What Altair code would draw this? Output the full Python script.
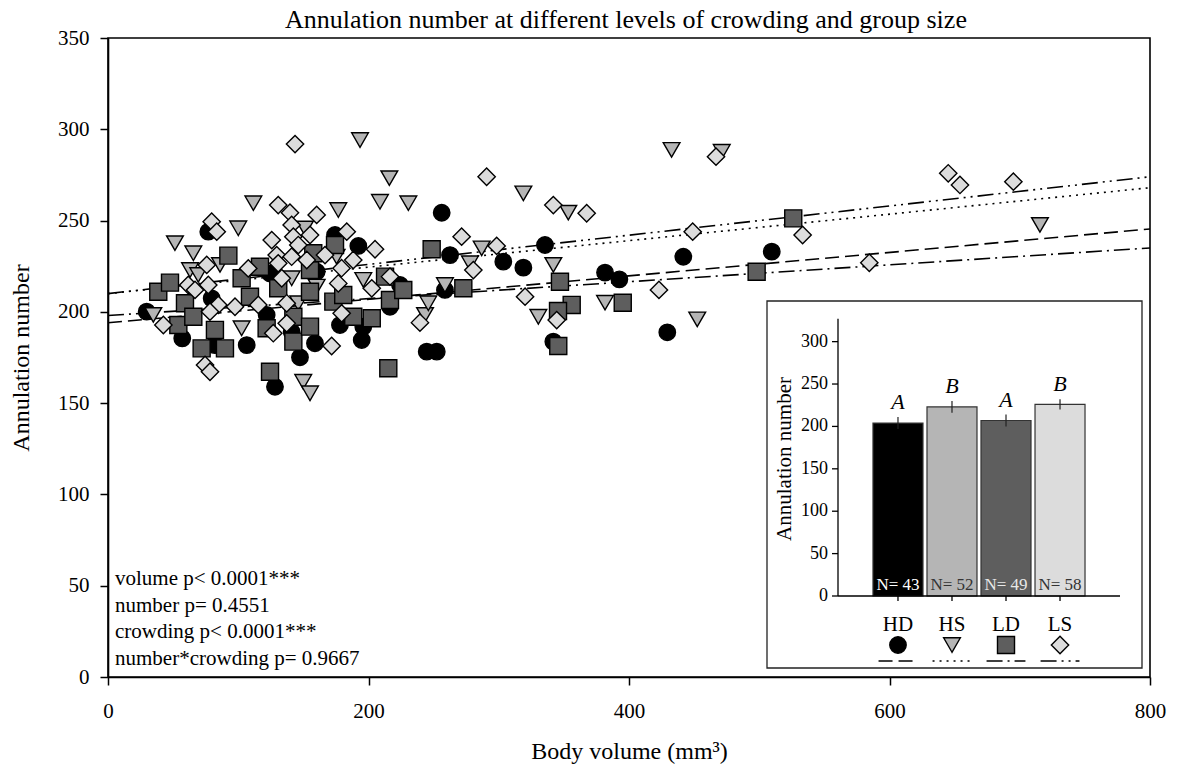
import altair as alt
import pandas as pd

# ---------------- data ----------------
groups = ["HD", "HS", "LD", "LS"]

HD_x = [29.7, 57.0, 79.6, 77.0, 82.1, 106.5, 121.8, 128.2, 141.0, 147.4, 158.9, 160.2, 174.3, 178.1,
        192.2, 194.8, 196.0, 216.5, 224.2, 244.7, 252.4, 256.2, 258.7, 262.6, 303.5, 318.9, 335.5,
        341.9, 381.6, 392.6, 441.7, 429.4, 509.6, 124.4]
HD_y = [200.1, 185.5, 207.4, 243.9, 181.8, 181.8, 198.3, 159.0, 189.1, 175.1, 182.8, 222.0, 242.1, 192.8,
        236.1, 184.6, 191.9, 202.8, 214.7, 178.2, 178.2, 254.3, 212.0, 231.1, 227.5, 224.2, 236.6,
        183.7, 221.5, 217.8, 230.2, 188.8, 233.0, 221.0]

HS_x = [34.8, 51.4, 65.5, 63.0, 69.3, 86.0, 100.0, 102.6, 111.6, 141.0, 146.1, 149.9, 155.1, 160.2,
        176.8, 193.5, 196.0, 208.8, 216.0, 230.6, 243.4, 245.9, 258.7, 277.9, 286.9, 318.9, 330.4,
        341.9, 353.4, 381.6, 432.7, 471.2, 452.4, 715.5, 151.2, 175.5]
HS_y = [198.3, 237.6, 232.1, 222.9, 220.2, 225.7, 245.8, 191.0, 259.5, 218.4, 204.7, 161.7, 155.4, 213.8,
        255.8, 294.1, 217.5, 260.3, 273.2, 259.5, 198.3, 204.7, 214.7, 226.6, 234.8, 264.9, 197.3,
        225.7, 254.3, 205.0, 288.7, 287.7, 195.9, 247.6, 245.7, 230.2]

LD_x = [38.6, 47.6, 59.1, 54.0, 65.5, 71.9, 82.1, 89.8, 92.4, 102.6, 109.0, 116.7, 121.8, 124.4, 130.7,
        142.3, 142.3, 155.1, 155.1, 155.1, 157.6, 173.0, 174.3, 180.6, 188.3, 202.5, 212.7, 215.2,
        216.5, 226.7, 248.5, 272.8, 347.0, 356.0, 345.7, 395.2, 498.0, 526.1, 345.5]
LD_y = [211.0, 216.0, 204.7, 192.8, 197.3, 180.0, 190.1, 180.0, 230.8, 218.4, 208.3, 224.7, 191.0, 167.2,
        212.9, 197.3, 183.7, 222.9, 211.0, 191.9, 232.1, 205.6, 236.6, 209.2, 197.3, 196.5, 219.3,
        169.1, 206.5, 212.0, 234.3, 212.9, 216.5, 203.8, 181.3, 205.0, 222.0, 251.2, 200.5]

LS_x = [42.5, 74.5, 78.3, 79.6, 83.5, 75.8, 61.6, 66.8, 77.0, 84.7, 97.5, 78.3, 107.7, 143.6, 130.7,
        139.7, 160.2, 141.0, 155.1, 183.3, 125.7, 142.3, 146.1, 205.0, 129.5, 141.0, 152.6, 166.6,
        188.3, 130.7, 179.3, 133.4, 176.8, 202.5, 216.5, 115.4, 137.2, 179.4, 137.2, 126.9, 171.7,
        290.7, 341.9, 367.5, 271.5, 298.4, 280.5, 320.2, 239.5, 344.5, 423.0, 448.9, 466.8, 533.3,
        584.5, 645.1, 654.1, 695.1]
LS_y = [192.8, 170.9, 167.2, 249.4, 243.9, 225.7, 214.7, 212.0, 214.7, 203.8, 202.8, 200.1, 223.8,
        291.9, 258.5, 254.3, 253.1, 247.6, 242.1, 243.9, 239.3, 241.2, 236.6, 234.3, 231.1, 230.2,
        228.4, 231.1, 228.4, 226.6, 223.9, 218.4, 215.6, 212.9, 219.3, 203.8, 204.7, 199.2, 193.7,
        188.3, 181.3, 274.0, 258.5, 254.0, 241.2, 236.1, 222.9, 208.3, 194.1, 195.5, 212.0, 243.9,
        285.0, 242.1, 226.9, 275.9, 269.5, 271.3]

# regression lines: fitted value at volume 0 and at volume 800
line_x0, line_x1 = 0, 800
line_y_start = [194.0, 210.0, 198.0, 210.0]
line_y_end = [245.4, 268.0, 235.0, 274.0]

# inset bar chart
bar_mean = [204.0, 223.0, 207.0, 226.0]
bar_se = [7.0, 7.0, 7.0, 6.0]
bar_letters = ["A", "B", "A", "B"]
bar_n = ["N= 43", "N= 52", "N= 49", "N= 58"]
bar_ncolor = ["#ffffff", "#333333", "#e8e8e8", "#333333"]
inset_ticks = [0, 50, 100, 150, 200, 250, 300]

title_text = "Annulation number at different levels of crowding and group size"
stats_text = ("volume p< 0.0001***\nnumber p= 0.4551\ncrowding p< 0.0001***\n"
              "number*crowding p= 0.9667")

# ---------------- tables ----------------
rows = []
for g, xs, ys in zip(groups, [HD_x, HS_x, LD_x, LS_x], [HD_y, HS_y, LD_y, LS_y]):
    for a, b in zip(xs, ys):
        rows.append({"group": g, "vol": a, "ann": b})
pts = pd.DataFrame(rows)

lines = pd.DataFrame(
    [{"group": g, "vol": line_x0, "ann": s} for g, s in zip(groups, line_y_start)]
    + [{"group": g, "vol": line_x1, "ann": e} for g, e in zip(groups, line_y_end)]
)

bars = pd.DataFrame({
    "group": groups,
    "idx": list(range(4)),
    "mean": bar_mean,
    "se": bar_se,
    "letter": bar_letters,
    "nlab": bar_n,
    "ncol": bar_ncolor,
})
bars["lo"] = bars["mean"] - bars["se"]
bars["hi"] = bars["mean"] + bars["se"]
bars["zero"] = 0
bars["tk"] = -6
bars["xa"] = bars["idx"] - 0.36
bars["xb"] = bars["idx"] + 0.36

ticks_df = pd.DataFrame({"t": inset_ticks})
axis_df = pd.DataFrame({"zero": [0], "top": [327]})
one = pd.DataFrame({"a": [0]})

# ---------------- scales ----------------
FONT = "Liberation Serif"
shape_scale = alt.Scale(domain=groups, range=["circle", "triangle-down", "square", "diamond"])
fill_scale = alt.Scale(domain=groups, range=["#000000", "#b5b5b5", "#5e5e5e", "#dcdcdc"])
size_scale = alt.Scale(domain=groups, range=[270, 300, 220, 340])
dash_scale = alt.Scale(domain=groups, range=[[14, 6], [2, 5], [16, 5, 2, 5], [16, 5, 2, 5, 2, 5]])

xs_main = alt.Scale(domain=[0, 800], nice=False, zero=False)
ys_main = alt.Scale(domain=[0, 350], nice=False)

axis_style = dict(grid=False, labelFont=FONT, labelFontSize=21, labelColor="black",
                  titleFont=FONT, titleFontSize=24, titleFontWeight="normal",
                  titleColor="black", domainColor="black", domainWidth=1.6,
                  tickColor="black", tickWidth=1.5, tickSize=8, labelFlush=False)

X = alt.X("vol:Q", scale=xs_main,
          axis=alt.Axis(values=[0, 200, 400, 600, 800], title="Body volume (mm³)",
                        titlePadding=18, labelPadding=15, **axis_style))
Y = alt.Y("ann:Q", scale=ys_main,
          axis=alt.Axis(values=[0, 50, 100, 150, 200, 250, 300, 350], title="Annulation number",
                        titlePadding=24, labelPadding=11, **axis_style))

reg = alt.Chart(lines).mark_line(color="black", strokeWidth=1.6).encode(
    x=X, y=Y,
    strokeDash=alt.StrokeDash("group:N", scale=dash_scale, legend=None),
    detail="group:N",
)

points = alt.Chart(pts).mark_point(filled=True, stroke="black", strokeWidth=1.4, opacity=1,
                                   fillOpacity=1).encode(
    x=X, y=Y,
    shape=alt.Shape("group:N", scale=shape_scale, legend=None),
    fill=alt.Fill("group:N", scale=fill_scale, legend=None),
    size=alt.Size("group:N", scale=size_scale, legend=None),
)

stats = alt.Chart(one).mark_text(align="left", baseline="top", font=FONT, fontSize=21,
                                 lineBreak="\n", lineHeight=26.5, color="black").encode(
    x=alt.value(7), y=alt.value(530), text=alt.value(stats_text)
)

title = alt.Chart(one).mark_text(align="center", baseline="middle", font=FONT, fontSize=26,
                                 color="black").encode(
    x=alt.value(518), y=alt.value(-18), text=alt.value(title_text)
)

main = alt.layer(reg, points, stats, title)

# ---------------- inset ----------------
xs_in = alt.Scale(domain=[-1.018, 4.018], range=[730, 1012], nice=False, zero=False)
ys_in = alt.Scale(domain=[0, 330], range=[558, 278.2], nice=False)


def XI(f):
    return alt.X(f, type="quantitative", scale=xs_in, axis=None)


def YI(f):
    return alt.Y(f, type="quantitative", scale=ys_in, axis=None)


bg = alt.Chart(one).mark_rect(fill="white", stroke="#222222", strokeWidth=1.3).encode(
    x=alt.value(659), x2=alt.value(1034), y=alt.value(263), y2=alt.value(630)
)

ibars = alt.Chart(bars).mark_bar(width=50, stroke="#333333", strokeWidth=1.2).encode(
    x=XI("idx"), y=YI("mean"),
    fill=alt.Fill("group:N", scale=fill_scale, legend=None),
)

ierr = alt.Chart(bars).mark_rule(color="#222222", strokeWidth=1.2).encode(
    x=XI("idx"), y=YI("lo"), y2="hi"
)

iletter = alt.Chart(bars).mark_text(font=FONT, fontSize=22, fontStyle="italic", baseline="bottom",
                                    dy=-3, color="black").encode(
    x=XI("idx"), y=YI("hi"), text="letter:N"
)

inlab = alt.Chart(bars).mark_text(font=FONT, fontSize=17, baseline="bottom", dy=-2).encode(
    x=XI("idx"), y=YI("zero"), text="nlab:N", color=alt.Color("ncol:N", scale=None)
)

iyaxis = alt.Chart(axis_df).mark_rule(color="black", strokeWidth=1.3).encode(
    x=alt.value(730), y=YI("zero"), y2="top"
)

iyticks = alt.Chart(ticks_df).mark_rule(color="black", strokeWidth=1.3).encode(
    x=alt.value(724), x2=alt.value(730), y=YI("t")
)

iylabels = alt.Chart(ticks_df).mark_text(font=FONT, fontSize=18, align="right", baseline="middle",
                                         color="black").encode(
    x=alt.value(720), y=YI("t"), text="t:Q"
)

ixaxis = alt.Chart(axis_df).mark_rule(color="black", strokeWidth=1.3).encode(
    x=alt.value(730), x2=alt.value(1012), y=YI("zero")
)

ixticks = alt.Chart(bars).mark_rule(color="black", strokeWidth=1.3).encode(
    x=XI("idx"), y=YI("zero"), y2="tk"
)

iytitle = alt.Chart(one).mark_text(font=FONT, fontSize=21, angle=270, align="center",
                                   baseline="middle", color="black").encode(
    x=alt.value(677), y=alt.value(421), text=alt.value("Annulation number")
)

icat = alt.Chart(bars).mark_text(font=FONT, fontSize=21, baseline="middle", color="black").encode(
    x=XI("idx"), y=alt.value(587), text="group:N"
)

imark = alt.Chart(bars).mark_point(filled=True, stroke="black", strokeWidth=1.4, opacity=1,
                                   fillOpacity=1).encode(
    x=XI("idx"), y=alt.value(607),
    shape=alt.Shape("group:N", scale=shape_scale, legend=None),
    fill=alt.Fill("group:N", scale=fill_scale, legend=None),
    size=alt.Size("group:N", scale=size_scale, legend=None),
)

iline = alt.Chart(bars).mark_rule(color="black", strokeWidth=1.6).encode(
    x=XI("xa"), x2="xb", y=alt.value(623),
    strokeDash=alt.StrokeDash("group:N", scale=dash_scale, legend=None),
)

inset = alt.layer(bg, ibars, ierr, iletter, inlab, iyaxis, iyticks, iylabels, ixaxis, ixticks,
                  iytitle, icat, imark, iline)

chart = alt.layer(main, inset).resolve_scale(x="independent", y="independent").properties(
    width=1042,
    height=639,
    autosize=alt.AutoSizeParams(type="none"),
    padding={"left": 108, "top": 38, "right": 28, "bottom": 94},
    background="white",
).configure_view(
    stroke="black", strokeWidth=1.6
).configure_axis(
    grid=False
)

chart.save("out.html", embed_options={"renderer": "svg", "actions": False})
